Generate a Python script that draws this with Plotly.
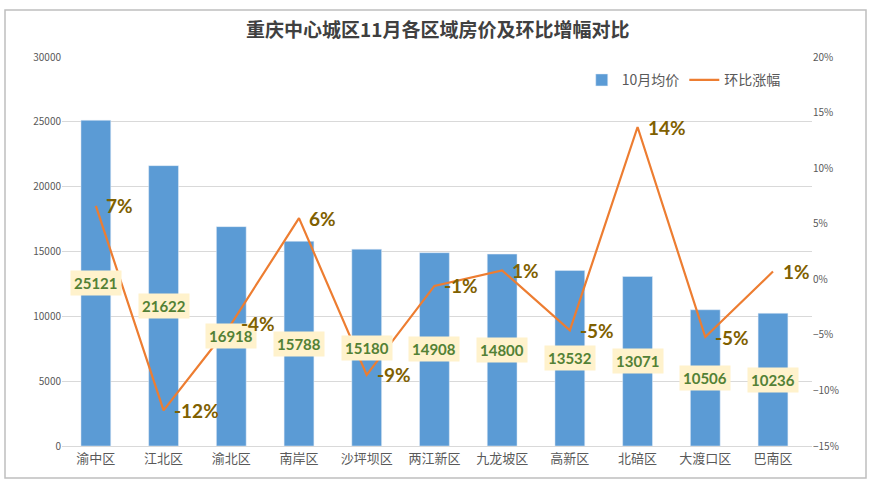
import plotly.graph_objects as go

districts = ["渝中区", "江北区", "渝北区", "南岸区", "沙坪坝区", "两江新区", "九龙坡区", "高新区", "北碚区", "大渡口区", "巴南区"]
prices = [25121, 21622, 16918, 15788, 15180, 14908, 14800, 13532, 13071, 10506, 10236]
change = [0.066, -0.118, -0.040, 0.055, -0.086, -0.006, 0.008, -0.046, 0.137, -0.052, 0.007]
change_labels = ["7%", "-12%", "-4%", "6%", "-9%", "-1%", "1%", "-5%", "14%", "-5%", "1%"]

CJK = "Noto Sans CJK SC"

fig = go.Figure()
fig.add_trace(go.Bar(x=districts, y=prices, name="10月均价", marker_color="#5B9BD5", yaxis="y"))
fig.add_trace(go.Scatter(x=districts, y=change, name="环比涨幅", mode="lines",
                         line=dict(color="#ED7D31", width=2.2), yaxis="y2"))

ann = []
for d, p in zip(districts, prices):
    ann.append(dict(x=d, y=p / 2, xref="x", yref="y", text=f"<b>{p}</b>", showarrow=False,
                    font=dict(family="Lato, " + CJK, size=15, color="#538135"),
                    bgcolor="#FFF2CC", borderpad=3))
for d, c, t in zip(districts, change, change_labels):
    ann.append(dict(x=d, y=c, xref="x", yref="y2", text=f"<b>{t}</b>", showarrow=False,
                    xanchor="left", xshift=8,
                    font=dict(family="Lato, " + CJK, size=19, color="#7F6000")))
ann.append(dict(x=0.5, y=1.0, xref="paper", yref="paper", yanchor="middle", yshift=29,
                text="<b>重庆中心城区11月各区域房价及环比增幅对比</b>", showarrow=False,
                font=dict(family=CJK, size=19, color="#404040")))

fig.update_layout(
    width=871, height=484,
    margin=dict(l=62, r=59, t=57, b=38, autoexpand=False),
    paper_bgcolor="white", plot_bgcolor="white",
    bargap=0.56,
    font=dict(family=CJK, color="#595959"),
    xaxis=dict(tickfont=dict(size=13, color="#595959", family=CJK), showline=True,
               linecolor="#D9D9D9", ticks="", automargin=False),
    yaxis=dict(range=[0, 30000], dtick=5000, tickformat="d", showgrid=True, gridcolor="#D9D9D9",
               tickfont=dict(size=10, color="#595959"), zeroline=False, ticks="", automargin=False),
    yaxis2=dict(range=[-0.15, 0.20], dtick=0.05, tickformat=".0%", overlaying="y", side="right",
                showgrid=False, zeroline=False, tickfont=dict(size=10, color="#595959"),
                automargin=False),
    legend=dict(orientation="h", x=0.965, xanchor="right", y=0.94, yanchor="middle",
                font=dict(size=14, color="#595959", family=CJK), bgcolor="rgba(0,0,0,0)"),
    annotations=ann,
    shapes=[dict(type="rect", xref="paper", yref="paper", x0=-0.076, x1=1.072, y0=-0.082, y1=1.121,
                 line=dict(color="#BFBFBF", width=1.5))],
)
fig.write_html("out.html", config={"displayModeBar": False})

with open("out.html", "r", encoding="utf-8") as f:
    html = f.read()
html = html.replace("<head>", "<head><style>html,body{margin:0;padding:0;overflow:hidden;}</style>", 1)
with open("out.html", "w", encoding="utf-8") as f:
    f.write(html)
